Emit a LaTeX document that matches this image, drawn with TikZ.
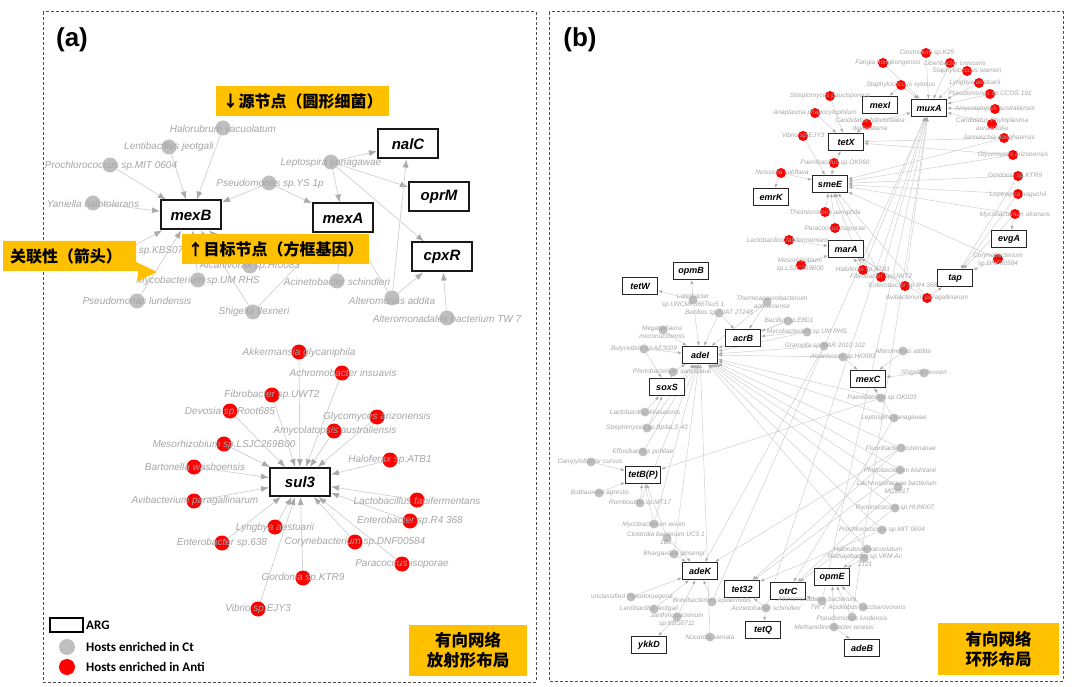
\documentclass[tikz,border=0pt]{standalone}
\usepackage{fontspec}
\setmainfont{Liberation Sans}
\newfontfamily\cjk{Noto Sans CJK SC}
\newfontfamily\carl{Carlito}
\usetikzlibrary{arrows.meta}
\pgfdeclarelayer{edgelayer}
\pgfdeclarelayer{bglayer}
\pgfsetlayers{bglayer,edgelayer,main}
\definecolor{cgray}{HTML}{BFBFBF}
\definecolor{cred}{HTML}{FF0000}
\definecolor{labgray}{HTML}{A6A6A6}
\definecolor{egray}{HTML}{D0D0D0}
\definecolor{agray}{HTML}{AAAAAA}
\definecolor{callout}{HTML}{FFC000}
\definecolor{framec}{HTML}{505050}
\newcommand\BA[7]{\node[#4] (#1) at (#2,#3) {}; \node[labA] at (#5,#6) {#7};}
\newcommand\BB[7]{\node[#4] (#1) at (#2,#3) {}; \node[labB] at (#5,#6) {#7};}
\begin{document}
\begin{tikzpicture}[x=1pt,y=-1pt,
 gA/.style={circle,fill=cgray,inner sep=0pt,minimum size=15pt},
 rA/.style={circle,fill=cred,inner sep=0pt,minimum size=15pt},
 gB/.style={circle,fill=cgray,inner sep=0pt,minimum size=9pt},
 rB/.style={circle,fill=cred,inner sep=0pt,minimum size=10pt},
 labA/.style={font=\fontsize{10}{11}\selectfont\itshape,text=labgray,inner sep=0pt,align=center},
 labB/.style={font=\fontsize{6.5}{7.8}\selectfont\itshape,text=labgray,inner sep=0pt,align=center},
 argA/.style={draw=black!90,line width=2pt,fill=white,minimum width=60pt,minimum height=29pt,inner sep=0pt,font=\fontsize{15}{16}\selectfont\bfseries\itshape},
 argB/.style={draw=black!85,line width=1.3pt,fill=white,minimum width=35pt,minimum height=17pt,inner sep=0pt,font=\fontsize{9}{10}\selectfont\bfseries\itshape},
 eA/.style={draw=egray,line width=0.7pt,-{Latex[length=8pt,width=6pt,color=agray]}},
 eB/.style={draw=egray,line width=0.5pt,-{Latex[length=4pt,width=3pt,color=agray]}},
 callbox/.style={fill=callout,inner sep=0pt,font=\cjk\bfseries\fontsize{16}{18}\selectfont},
 legtext/.style={anchor=west,inner sep=0pt,font=\carl\bfseries\fontsize{13}{14}\selectfont},
 framebox/.style={draw=framec,line width=1pt,dash pattern=on 3pt off 2pt}
]
\useasboundingbox (0,0) rectangle (1080,687);
\begin{pgfonlayer}{bglayer}
\fill[white] (0,0) rectangle (1080,687);
\end{pgfonlayer}
% frames
\draw[framebox] (43,12) rectangle (536,682);
\draw[framebox] (549,12) rectangle (1063,681);
\node[font=\bfseries\fontsize{26}{28}\selectfont] (pa) at (72,40) {(a)};
\node[font=\bfseries\fontsize{26}{28}\selectfont] (pb) at (580,40) {(b)};

% ---------------- panel (a) ----------------
\node[argA] (AnalC) at (408,144) {nalC};
\node[argA] (AoprM) at (439,197) {oprM};
\node[argA] (AmexB) at (191,215) {mexB};
\node[argA] (AmexA) at (343,218) {mexA};
\node[argA] (AcpxR) at (442,257) {cpxR};
\node[argA,minimum height=28pt] (Asul3) at (300,482) {sul3};

\BA{aHalo}{223}{128}{gA}{223}{129}{Halorubrum vacuolatum}
\BA{aLent}{169}{147}{gA}{169}{147}{Lentibacillus jeotgali}
\BA{aProc}{110}{165}{gA}{111}{166}{Prochlorococcus sp.MIT 0604}
\BA{aYani}{93}{203}{gA}{93}{204}{Yaniella halotolerans}
\BA{aPseY}{269}{183}{gA}{270}{184}{Pseudomonas sp.YS 1p}
\BA{aLept}{331}{162}{gA}{331}{163}{Leptospira yanagawae}
\BA{aJant}{124}{251}{gA}{124}{251}{Janthinobacterium sp.KBS0711}
\BA{aAlca}{250}{266}{gA}{250}{266}{Alcanivorax sp.HI0083}
\BA{aMycU}{198}{280}{gA}{198}{281}{Mycobacterium sp.UM RHS}
\BA{aPlun}{137}{301}{gA}{137}{301}{Pseudomonas lundensis}
\BA{aShig}{253}{312}{gA}{254}{312}{Shigella flexneri}
\BA{aAcin}{337}{281}{gA}{337}{282}{Acinetobacter schindleri}
\BA{aAlte}{392}{298}{gA}{392}{301}{Alteromonas addita}
\BA{aAltB}{447}{318}{gA}{447}{319}{Alteromonadales bacterium TW 7}

\BA{sAkk}{299}{352}{rA}{299}{353}{Akkermansia glycaniphila}
\BA{sAch}{342}{373}{rA}{343}{373}{Achromobacter insuavis}
\BA{sFib}{272}{395}{rA}{272}{395}{Fibrobacter sp.UWT2}
\BA{sDev}{230}{411}{rA}{230}{412}{Devosia sp.Root685}
\BA{sGly}{377}{417}{rA}{377}{417}{Glycomyces arizonensis}
\BA{sAmy}{334}{431}{rA}{335}{431}{Amycolatopsis australiensis}
\BA{sMes}{224}{444}{rA}{224}{445}{Mesorhizobium sp.LSJC269B00}
\BA{sHal}{390}{460}{rA}{390}{460}{Haloferax sp.ATB1}
\BA{sBar}{194}{467}{rA}{195}{467}{Bartonella washoensis}
\BA{sAvi}{194}{501}{rA}{195}{501}{Avibacterium paragallinarum}
\BA{sLac}{417}{500}{rA}{417}{501}{Lactobacillus fabifermentans}
\BA{sEnR}{410}{521}{rA}{410}{521}{Enterobacter sp.R4 368}
\BA{sLyn}{275}{527}{rA}{275}{528}{Lyngbya aestuarii}
\BA{sEn6}{222}{543}{rA}{222}{543}{Enterobacter sp.638}
\BA{sCor}{355}{542}{rA}{355}{542}{Corynebacterium sp.DNF00584}
\BA{sPar}{402}{564}{rA}{402}{564}{Paracoccus isoporae}
\BA{sGor}{303}{578}{rA}{303}{578}{Gordonia sp.KTR9}
\BA{sVib}{258}{609}{rA}{258}{609}{Vibrio sp.EJY3}

\begin{pgfonlayer}{edgelayer}
\foreach \s/\t in {aHalo/AmexB,aLent/AmexB,aProc/AmexB,aYani/AmexB,aPseY/AmexB,aPseY/AmexA,
  aLept/AnalC,aLept/AmexA,aLept/AoprM,aLept/AcpxR,aJant/AmexB,aMycU/AmexB,aAlca/AmexB,aAlca/AmexA,
  aPlun/AmexB,aShig/AmexB,aShig/AmexA,aAcin/AmexA,aAlte/AnalC,aAlte/AcpxR,aAlte/AmexA,aAltB/AcpxR,
  sAkk/Asul3,sAch/Asul3,sFib/Asul3,sDev/Asul3,sGly/Asul3,sAmy/Asul3,sMes/Asul3,sHal/Asul3,sBar/Asul3,
  sAvi/Asul3,sLac/Asul3,sEnR/Asul3,sLyn/Asul3,sEn6/Asul3,sCor/Asul3,sPar/Asul3,sGor/Asul3,sVib/Asul3}
  \draw[eA] (\s) -- (\t);
\end{pgfonlayer}

% legend
\node[draw=black,line width=2pt,minimum width=33pt,minimum height=14pt,inner sep=0pt] (legARG) at (66.5,625) {};
\node[legtext] (legARGt) at (86,625) {ARG};
\node[gA,minimum size=16pt] (legG) at (67,647) {};
\node[legtext] (legGt) at (86,647) {Hosts enriched in Ct};
\node[rA,minimum size=16pt] (legR) at (67,667) {};
\node[legtext] (legRt) at (86,667) {Hosts enriched in Anti};

% callouts (a)
\node[callbox,minimum width=173pt,minimum height=30pt] (c1) at (302.5,101) {↓源节点（圆形细菌）};
\node[callbox,minimum width=187pt,minimum height=30pt] (c2) at (275.5,249) {↑目标节点（方框基因）};
\fill[callout] (3,241) -- (136,241) -- (136,262) -- (157,272) -- (138,281) -- (138,271) -- (3,271) -- cycle;
\node[callbox] (c3) at (66,256) {关联性（箭头）};
\node[callbox,minimum width=118pt,minimum height=51pt,align=center,font=\cjk\bfseries\fontsize{16.5}{20}\selectfont] (c4) at (468,650.5) {有向网络\\放射形布局};

% ---------------- panel (b) ----------------
\node[argB] (muxA) at (929,108) {muxA};
\node[argB] (mexI) at (880,105) {mexI};
\node[argB] (tetX) at (846,142) {tetX};
\node[argB] (smeE) at (830,184) {smeE};
\node[argB] (emrK) at (771,197) {emrK};
\node[argB] (marA) at (846,249) {marA};
\node[argB] (evgA) at (1009,239) {evgA};
\node[argB] (tap) at (955,278) {tap};
\node[argB] (opmB) at (691,271) {opmB};
\node[argB] (tetW) at (640,286) {tetW};
\node[argB] (acrB) at (743,338) {acrB};
\node[argB] (adeI) at (700,355) {adeI};
\node[argB] (soxS) at (667,387) {soxS};
\node[argB] (mexC) at (868,379) {mexC};
\node[argB] (tetBP) at (643,475) {tetB(P)};
\node[argB] (adeK) at (700,571) {adeK};
\node[argB] (tet32) at (742,589) {tet32};
\node[argB] (otrC) at (788,591) {otrC};
\node[argB] (opmE) at (832,577) {opmE};
\node[argB] (tetQ) at (763,630) {tetQ};
\node[argB] (ykkD) at (649,645) {ykkD};
\node[argB] (adeB) at (862,648) {adeB};

% red (b)
\BB{bClos}{926}{53}{rB}{927}{53}{Clostridium sp.K25}
\BB{bFang}{883}{63}{rB}{888}{63}{Fangia hongkongensis}
\BB{bLibe}{950}{63}{rB}{955}{63}{Liberibacter crescens}
\BB{bSwar}{967}{71}{rB}{967}{71}{Staphylococcus warneri}
\BB{bLyng}{979}{83}{rB}{975}{83}{Lyngbya aestuarii}
\BB{bSxyl}{901}{85}{rB}{901}{85}{Staphylococcus xylosus}
\BB{bPseC}{990}{94}{rB}{990}{94}{Pseudomonas sp.CCOS 191}
\BB{bStrP}{830}{96}{rB}{830}{96}{Streptomyces paucisporeus}
\BB{bAmyc}{995}{109}{rB}{995}{109}{Amycolatopsis australiensis}
\BB{bAnap}{815}{113}{rB}{815}{113}{Anaplasma phagocytophilum}
\BB{bCNit}{867}{124}{rB}{870}{124}{Candidatus Nitrosotalea\\devanaterra}
\BB{bCPhy}{992}{124}{rB}{992}{124}{Candidatus Phytoplasma\\aurantifolia}
\BB{bVibr}{803}{136}{rB}{803}{136}{Vibrio sp.EJY3}
\BB{bJann}{1004}{138}{rB}{999}{138}{Jannaschia donghaensis}
\BB{bGlyc}{1013}{155}{rB}{1013}{155}{Glycomyces arizonensis}
\BB{bPaeS}{834}{163}{rB}{835}{163}{Paenibacillus sp.OK060}
\BB{bNeis}{781}{173}{rB}{782}{172}{Neisseria subflava}
\BB{bGord}{1018}{176}{rB}{1015}{176}{Gordonia sp.KTR9}
\BB{bLnog}{1018}{194}{rB}{1018}{195}{Leptospira noguchii}
\BB{bMulc}{1015}{214}{rB}{1015}{215}{Mycobacterium ulcerans}
\BB{bThio}{825}{212}{rB}{825}{213}{Thiomicrospira aerophila}
\BB{bParI}{835}{228}{rB}{835}{229}{Paracoccus isoporae}
\BB{bLfab}{789}{240}{rB}{788}{240}{Lactobacillus fabifermentans}
\BB{bCory}{998}{259}{rB}{998}{260}{Corynebacterium\\sp.DNF00584}
\BB{bMeso}{801}{265}{rB}{800}{265}{Mesorhizobium\\sp.LSJC269B00}
\BB{bHalx}{863}{270}{rB}{863}{270}{Haloferax sp.ATB1}
\BB{bFibr}{881}{277}{rB}{881}{277}{Fibrobacter sp.UWT2}
\BB{bEnte}{905}{286}{rB}{903}{286}{Enterobacter sp.R4 368}
\BB{bAvib}{927}{298}{rB}{927}{298}{Avibacterium paragallinarum}

% gray (b)
\BB{bLute}{693}{300}{gB}{693}{301}{Luteibacter\\sp.UNCMF366Tsu5 1}
\BB{bTher}{767}{302}{gB}{772}{302}{Thermoanaerobacterium\\aotearoense}
\BB{bBacF}{719}{313}{gB}{719}{313}{Bacillus sp.FJAT 27248}
\BB{bMega}{663}{330}{gB}{662}{332}{Megasphaera\\micronuciformis}
\BB{bButy}{644}{349}{gB}{644}{349}{Butyrivibrio sp.AE3009}
\BB{bBacE}{788}{321}{gB}{789}{321}{Bacillus sp.EB01}
\BB{bMycU}{807}{332}{gB}{807}{332}{Mycobacterium sp.UM RHS}
\BB{bGram}{824}{346}{gB}{825}{346}{Gramella sp.MAR 2010 102}
\BB{bAlca}{843}{357}{gB}{843}{357}{Alcanivorax sp.HI0083}
\BB{bAlte}{903}{351}{gB}{903}{351}{Alteromonas addita}
\BB{bShig}{924}{373}{gB}{924}{373}{Shigella flexneri}
\BB{bPaeO}{881}{398}{gB}{882}{398}{Paenibacillus sp.OK003}
\BB{bLyan}{894}{418}{gB}{894}{418}{Leptospira yanagawae}
\BB{bFluo}{901}{448}{gB}{901}{448}{Fluoribacter bozemanae}
\BB{bPkis}{900}{470}{gB}{900}{470}{Photobacterium kishitanii}
\BB{bLach}{898}{487}{gB}{897}{487}{Lachnospiraceae bacterium\\MC2017}
\BB{bRumi}{895}{508}{gB}{895}{508}{Ruminococcus sp.HUN007}
\BB{bProc}{882}{530}{gB}{882}{530}{Prochlorococcus sp.MIT 0604}
\BB{bHalo}{867}{549}{gB}{868}{549}{Halorubrum vacuolatum}
\BB{bRath}{864}{558}{gB}{865}{560}{Rathayibacter sp.VKM Ac\\2121}
\BB{bAltB}{822}{601}{gB}{817}{599}{Alteromonadales bacterium}
\node[labB] (bAltBt) at (818,607) {TW 7};
\BB{bAcid}{863}{607}{gB}{867}{607}{Acidilobus saccharovorans}
\BB{bPlun}{852}{617}{gB}{852}{618}{Pseudomonas lundensis}
\BB{bMeth}{834}{627}{gB}{834}{627}{Methanobrevibacter woesei}
\BB{bAcin}{766}{608}{gB}{766}{608}{Acinetobacter schindleri}
\BB{bNoca}{710}{637}{gB}{710}{637}{Nocardia sienata}
\BB{bJant}{677}{617}{gB}{677}{620}{Janthinobacterium\\sp.KBS0711}
\BB{bLent}{654}{609}{gB}{649}{609}{Lentibacillus jeotgali}
\BB{bBrev}{712}{602}{gB}{712}{601}{Brevibacterium epidermidis}
\BB{bUncl}{631}{597}{gB}{632}{597}{unclassified Pseudoruegeria}
\BB{bBhar}{674}{554}{gB}{674}{554}{Bhargavaea ginsengi}
\BB{bClst}{667}{538}{gB}{666}{538}{Clostridia bacterium UC5 1\\1B1}
\BB{bMavi}{654}{524}{gB}{654}{525}{Mycobacterium avium}
\BB{bRomb}{640}{503}{gB}{640}{503}{Romboutsia sp.MT17}
\BB{bButt}{599}{493}{gB}{600}{493}{Buttiauxella agrestis}
\BB{bCamp}{591}{462}{gB}{590}{462}{Campylobacter curvus}
\BB{bEffu}{643}{452}{gB}{643}{452}{Effusibacillus pohliae}
\BB{bStrB}{647}{428}{gB}{647}{428}{Streptomyces sp.BpilaLS 43}
\BB{bLkit}{645}{412}{gB}{645}{412}{Lactobacillus kitasatonis}
\BB{bPhot}{673}{372}{gB}{672}{372}{Photobacterium sanctipauli}

\begin{pgfonlayer}{edgelayer}
\foreach \s/\t in {bClos/muxA,bFang/muxA,bLibe/muxA,bSwar/muxA,bLyng/muxA,bSxyl/mexI,bSxyl/muxA,
  bPseC/muxA,bAmyc/muxA,bCPhy/muxA,bCNit/tetX,bCNit/muxA,bStrP/tetX,bAnap/tetX,bVibr/smeE,
  bJann/tetX,bJann/smeE,bGlyc/tetX,bGlyc/smeE,bPaeS/tetX,bPaeS/smeE,bNeis/emrK,bNeis/smeE,
  bGord/smeE,bGord/tap,bLnog/smeE,bLnog/tap,bMulc/evgA,bMulc/tap,bMulc/smeE,bThio/smeE,bParI/smeE,
  bLfab/marA,bMeso/marA,bCory/tap,bCory/smeE,bHalx/marA,bHalx/smeE,bHalx/muxA,bFibr/marA,bFibr/smeE,
  bFibr/muxA,bEnte/marA,bEnte/muxA,bAvib/tap,bAvib/marA,bAvib/smeE,
  bAcin/muxA,bPlun/muxA,bBrev/muxA,bAltB/muxA,
  bLute/tetW,bLute/opmB,bLute/adeI,bTher/acrB,bTher/adeI,bBacF/acrB,bBacF/adeI,bMega/adeI,
  bButy/soxS,bButy/adeI,bBacE/adeI,bBacE/acrB,bMycU/acrB,bMycU/adeI,bGram/adeI,bGram/adeK,
  bAlca/mexC,bAlca/adeI,bAlte/mexC,bShig/mexC,bPaeO/mexC,bPaeO/adeI,bPaeO/tetBP,bLyan/mexC,
  bLyan/adeI,bLyan/otrC,bFluo/adeI,bFluo/adeK,bFluo/tet32,bPkis/adeI,bPkis/tet32,bLach/adeI,
  bLach/otrC,bRumi/adeI,bRumi/otrC,bProc/adeI,bProc/tet32,bHalo/opmE,bHalo/adeI,bRath/opmE,
  bAltB/otrC,bAcid/opmE,bPlun/opmE,bMeth/opmE,bMeth/adeB,bAcin/tetQ,bAcin/tet32,bNoca/adeI,
  bJant/ykkD,bJant/adeK,bLent/adeK,bBrev/adeK,bUncl/adeK,bBhar/adeK,bBhar/adeI,bClst/tetBP,
  bClst/adeK,bMavi/tetBP,bMavi/adeI,bRomb/tetBP,bRomb/adeI,bButt/tetBP,bCamp/tetBP,bEffu/adeI,
  bStrB/soxS,bStrB/adeI,bLkit/soxS,bPhot/soxS,bPhot/adeI}
  \draw[eB] (\s) -- (\t);
\end{pgfonlayer}

\node[callbox,minimum width=121pt,minimum height=52pt,align=center,font=\cjk\bfseries\fontsize{16.5}{20}\selectfont] (c5) at (998.5,649) {有向网络\\环形布局};
\end{tikzpicture}
\end{document}
